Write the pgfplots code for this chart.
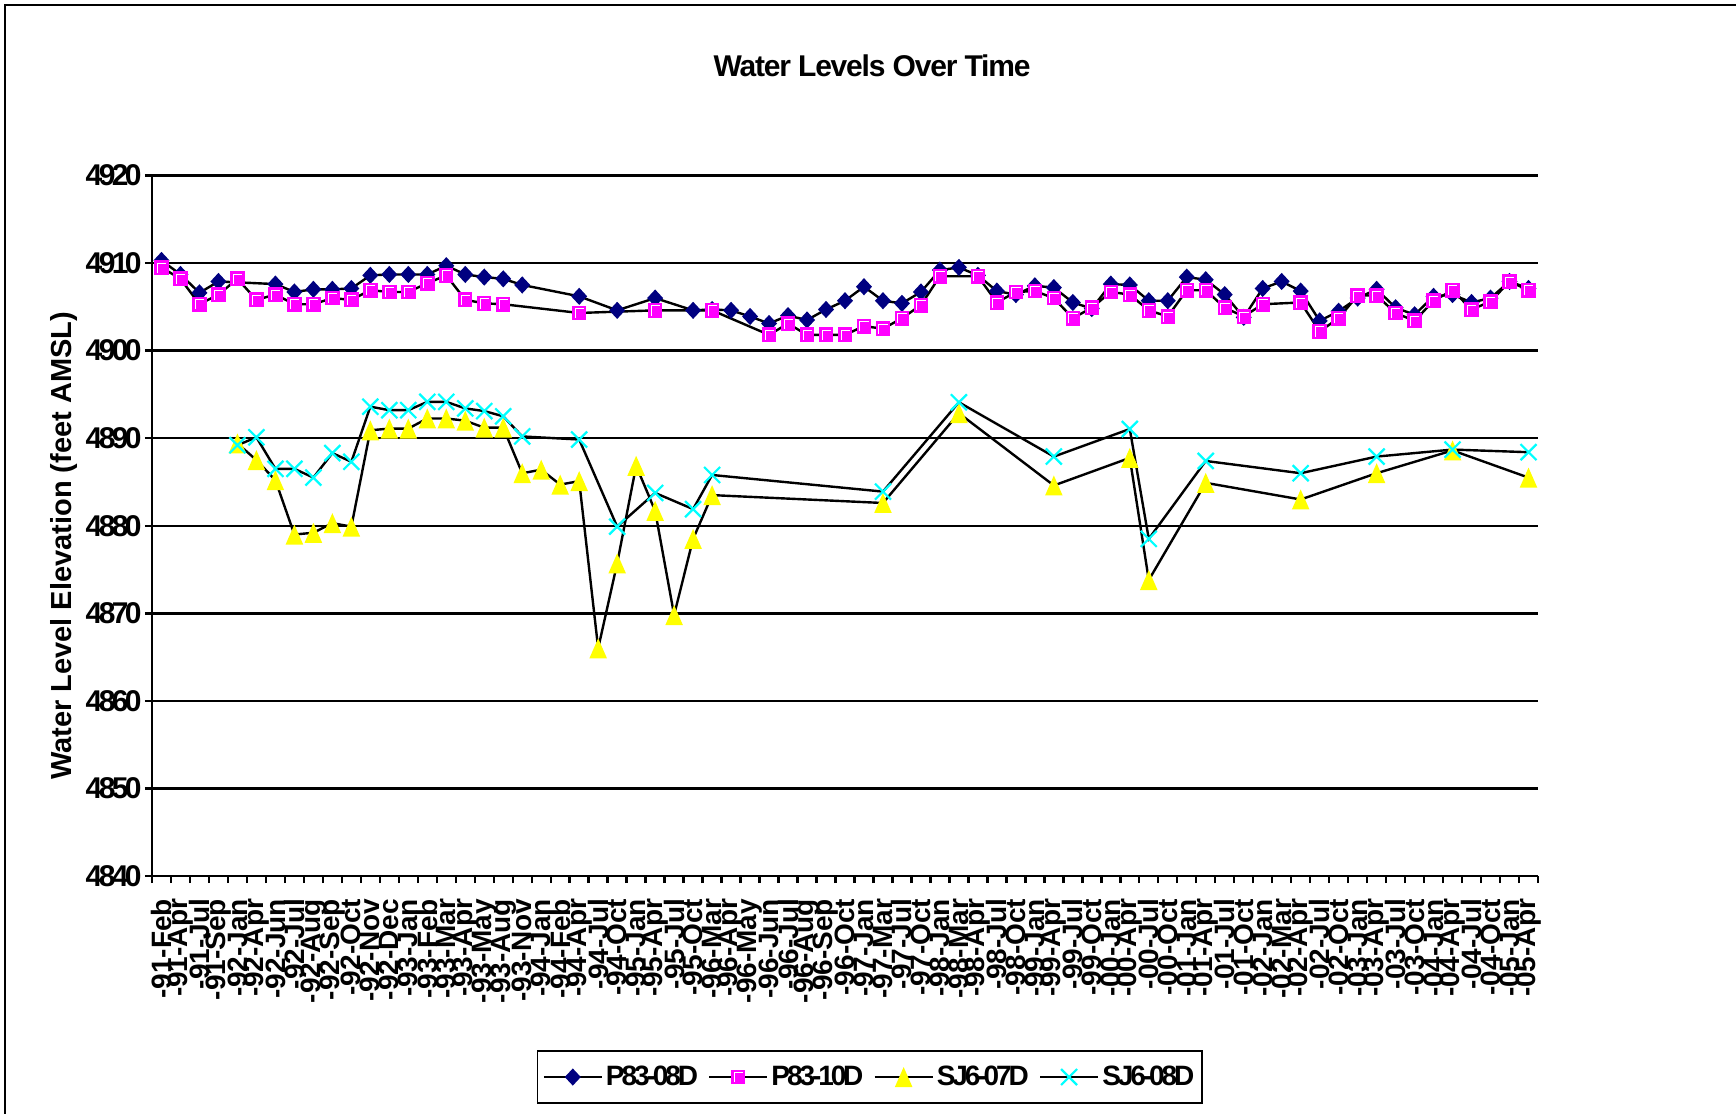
\documentclass[border=0pt]{standalone}
\usepackage{fontspec}
\setmainfont{Liberation Sans}
\newfontfamily\tickfont{Liberation Sans}[LetterSpace=-12]
\newfontfamily\legfont{Liberation Sans}[LetterSpace=-11]
\newfontfamily\titlefont{Liberation Sans}[LetterSpace=-4]
\usepackage{pgfplots}
\pgfplotsset{compat=1.18}
\definecolor{navyc}{RGB}{0,0,128}
\definecolor{magc}{RGB}{255,0,255}
\definecolor{yelc}{RGB}{255,255,0}
\definecolor{cyac}{RGB}{0,255,255}
\newcommand\titlef{\titlefont\bfseries\fontsize{15pt}{18pt}\selectfont}
\newcommand\ylabf{\bfseries\fontsize{14.5pt}{17pt}\selectfont}
\newcommand\ytickf{\tickfont\bfseries\fontsize{15pt}{18pt}\selectfont}
\newcommand\xtickf{\bfseries\fontsize{14pt}{16pt}\selectfont}
\newcommand\legf{\legfont\bfseries\fontsize{14pt}{16pt}\selectfont}

\pgfdeclareplotmark{exdiamond}{%
 \pgfpathmoveto{\pgfqpoint{0pt}{4.3pt}}%
 \pgfpathlineto{\pgfqpoint{4pt}{0pt}}%
 \pgfpathlineto{\pgfqpoint{0pt}{-4.3pt}}%
 \pgfpathlineto{\pgfqpoint{-4pt}{0pt}}%
 \pgfpathclose\pgfusepathqfill}
\pgfdeclareplotmark{exsquare}{%
 \pgfpathrectangle{\pgfqpoint{-3.6pt}{-3.7pt}}{\pgfqpoint{7.2pt}{7.4pt}}%
 \pgfusepathqfill
 \begin{pgfscope}\pgfsetstrokecolor{white}\pgfsetlinewidth{0.5pt}%
 \pgfpathmoveto{\pgfqpoint{-2pt}{-2.6pt}}%
 \pgfpathlineto{\pgfqpoint{-2pt}{2.2pt}}%
 \pgfpathlineto{\pgfqpoint{2.4pt}{2.2pt}}%
 \pgfusepathqstroke\end{pgfscope}}
\pgfdeclareplotmark{extri}{%
 \pgfpathmoveto{\pgfqpoint{0pt}{5pt}}%
 \pgfpathlineto{\pgfqpoint{4.4pt}{-5pt}}%
 \pgfpathlineto{\pgfqpoint{-4.4pt}{-5pt}}%
 \pgfpathclose\pgfusepathqfill}
\pgfdeclareplotmark{excross}{%
 \pgfpathmoveto{\pgfqpoint{-4pt}{-4pt}}\pgfpathlineto{\pgfqpoint{4pt}{4pt}}%
 \pgfpathmoveto{\pgfqpoint{-4pt}{4pt}}\pgfpathlineto{\pgfqpoint{4pt}{-4pt}}%
 \pgfusepathqstroke}

\begin{document}
\begin{tikzpicture}
\path[use as bounding box] (0pt,0pt) rectangle (868pt,557pt);
\draw[line width=1.1pt] (2.5pt,0pt) -- (2.5pt,554.5pt) -- (868pt,554.5pt);
\begin{axis}[
 at={(76pt,119pt)}, anchor=south west,
 width=693pt, height=350.25pt, scale only axis,
 xmin=-0.5, xmax=72.5, ymin=4840, ymax=4920,
 axis x line*=bottom, axis y line*=left,
 axis line style={line width=1.2pt, black},
 ytick={4840,4850,...,4920},
 yticklabels={4840,4850,4860,4870,4880,4890,4900,4910,4920},
 minor ytick={4840,4850,...,4920},
 ymajorgrids, major grid style={black, line width=1.2pt},
 xtick={0,...,72},
 xticklabels={-91-Feb,-91-Apr,-91-Jul,-91-Sep,-92-Jan,-92-Apr,-92-Jun,-92-Jul,-92-Aug,-92-Sep,-92-Oct,-92-Nov,-92-Dec,-93-Jan,-93-Feb,-93-Mar,-93-Apr,-93-May,-93-Aug,-93-Nov,-94-Jan,-94-Feb,-94-Apr,-94-Jul,-94-Oct,-95-Jan,-95-Apr,-95-Jul,-95-Oct,-96-Mar,-96-Apr,-96-May,-96-Jun,-96-Jul,-96-Aug,-96-Sep,-96-Oct,-97-Jan,-97-Mar,-97-Jul,-97-Oct,-98-Jan,-98-Mar,-98-Apr,-98-Jul,-98-Oct,-99-Jan,-99-Apr,-99-Jul,-99-Oct,-00-Jan,-00-Apr,-00-Jul,-00-Oct,-01-Jan,-01-Apr,-01-Jul,-01-Oct,-02-Jan,-02-Mar,-02-Apr,-02-Jul,-02-Oct,-03-Jan,-03-Apr,-03-Jul,-03-Oct,-04-Jan,-04-Apr,-04-Jul,-04-Oct,-05-Jan,-05-Apr},
 minor xtick={-0.5,0.5,...,72.5},
 tick align=outside, tick pos=left,
 major tick length=0pt, minor tick length=3.5pt,
 every minor tick/.append style={black, line width=1.2pt},
 xticklabel style={font=\xtickf, rotate=90, anchor=east, inner sep=0pt},
 yticklabel style={font=\ytickf, inner sep=0pt},
 xticklabel shift=11.25pt, yticklabel shift=5pt,
 legend columns=-1,
 legend style={at={(0.518,-0.287)}, anchor=center, draw=black, line width=0.9pt,
   font=\legf, inner xsep=2.5pt, inner ysep=6pt,
   /tikz/every even column/.append style={column sep=3.5pt},
   nodes={inner sep=1.5pt}},
 legend image code/.code={\draw[#1, mark repeat=2, mark phase=2] plot coordinates {(0pt,0pt) (14.5pt,0pt) (29pt,0pt)};},
]
\addplot[black, line width=1.2pt, mark=exdiamond, mark options={fill=navyc}] coordinates {
(0,4910.3) (1,4908.7) (2,4906.6) (3,4907.9) (6,4907.6) (7,4906.7) (8,4907.0) (9,4907.0)
(10,4907.1) (11,4908.6) (12,4908.7) (13,4908.7) (14,4908.7) (15,4909.7) (16,4908.7)
(17,4908.4) (18,4908.2) (19,4907.5) (22,4906.2) (24,4904.6) (26,4906.0) (28,4904.6)
(29,4904.7) (30,4904.6) (31,4903.9) (32,4903.1) (33,4904.0) (34,4903.5) (35,4904.7)
(36,4905.7) (37,4907.3) (38,4905.7) (39,4905.4) (40,4906.7) (41,4909.2) (42,4909.5)
(43,4908.6) (44,4906.8) (45,4906.4) (46,4907.4) (47,4907.2) (48,4905.5) (49,4904.8)
(50,4907.6) (51,4907.5) (52,4905.7) (53,4905.7) (54,4908.4) (55,4908.1) (56,4906.4)
(57,4903.8) (58,4907.1) (59,4907.9) (60,4906.8) (61,4903.4) (62,4904.5) (63,4906.0)
(64,4907.0) (65,4904.9) (66,4904.1) (67,4906.2) (68,4906.4) (69,4905.5) (70,4906.0)
(71,4907.9) (72,4907.1)};
\addlegendentry{P83-08D}
\addplot[black, line width=1.2pt, mark=exsquare, mark options={fill=magc}] coordinates {
(0,4909.5) (1,4908.2) (2,4905.3) (3,4906.4) (4,4908.2) (5,4905.8) (6,4906.4) (7,4905.3)
(8,4905.3) (9,4906.0) (10,4905.8) (11,4906.9) (12,4906.7) (13,4906.7) (14,4907.7)
(15,4908.6) (16,4905.8) (17,4905.4) (18,4905.3) (22,4904.3) (26,4904.6) (29,4904.6)
(32,4901.8) (33,4903.1) (34,4901.8) (35,4901.8) (36,4901.8) (37,4902.8) (38,4902.5)
(39,4903.7) (40,4905.2) (41,4908.5) (43,4908.5) (44,4905.5) (45,4906.7) (46,4906.8)
(47,4906.0) (48,4903.7) (49,4904.9) (50,4906.7) (51,4906.4) (52,4904.6) (53,4903.9)
(54,4906.9) (55,4906.9) (56,4904.9) (57,4903.9) (58,4905.3) (60,4905.5) (61,4902.2)
(62,4903.7) (63,4906.3) (64,4906.3) (65,4904.3) (66,4903.4) (67,4905.7) (68,4906.9)
(69,4904.7) (70,4905.6) (71,4907.9) (72,4906.9)};
\addlegendentry{P83-10D}
\addplot[black, line width=1.2pt, mark=extri, mark options={fill=yelc}] coordinates {
(4,4889.4) (5,4887.5) (6,4885.2) (7,4879.0) (8,4879.2) (9,4880.3) (10,4879.9)
(11,4890.9) (12,4891.1) (13,4891.1) (14,4892.25) (15,4892.25) (16,4892.0) (17,4891.2)
(18,4891.2) (19,4886.0) (20,4886.4) (21,4884.7) (22,4885.1) (23,4866.0) (24,4875.7)
(25,4886.85) (26,4881.7) (27,4869.8) (28,4878.5) (29,4883.5) (38,4882.6) (42,4892.85)
(47,4884.6) (51,4887.75) (52,4873.8) (55,4884.9) (60,4883.0) (64,4886.0) (68,4888.6)
(72,4885.5)};
\addlegendentry{SJ6-07D}
\addplot[black, line width=1.2pt, mark=excross, mark options={draw=cyac, line width=1.1pt}] coordinates {
(4,4889.2) (5,4890.1) (6,4886.5) (7,4886.5) (8,4885.5) (9,4888.3) (10,4887.3)
(11,4893.6) (12,4893.2) (13,4893.2) (14,4894.15) (15,4894.15) (16,4893.4) (17,4893.1)
(18,4892.5) (19,4890.2) (22,4889.85) (24,4879.9) (26,4883.75) (28,4881.9) (29,4885.8)
(38,4883.9) (42,4894.1) (47,4887.9) (51,4891.05) (52,4878.5) (55,4887.4) (60,4886.0)
(64,4887.9) (68,4888.7) (72,4888.4)};
\addlegendentry{SJ6-08D}
\end{axis}
\node[font=\titlef] at (436pt,524pt) {Water Levels Over Time};
\node[font=\ylabf, rotate=90] at (32pt,284pt) {Water Level Elevation (feet AMSL)};
\end{tikzpicture}
\end{document}
